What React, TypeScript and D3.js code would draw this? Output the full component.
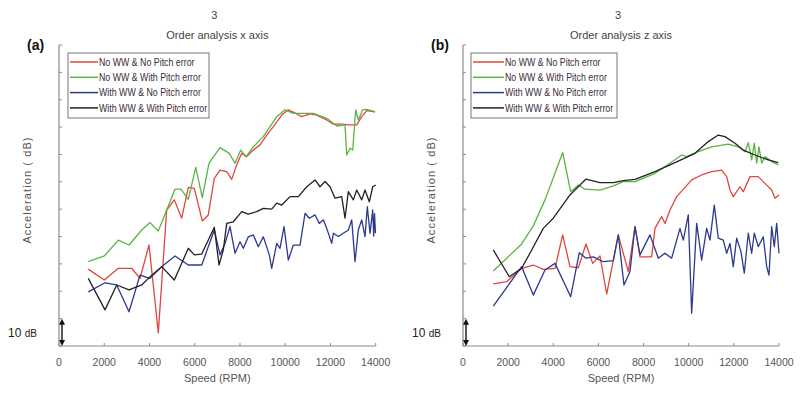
import * as d3 from 'd3';

// [rpm, dB] samples
const aRedNoWwNoPitch: [number, number][] = [
  [1295, 28.1], [2003, 24.1], [2622, 28.4], [3214, 28.4], [3581, 24.7], [3979, 36.9], [4390, 4.9],
  [4761, 49.7], [5097, 53.4], [5424, 46.7], [5716, 58.0], [5981, 57.6], [6335, 45.7], [6600, 47.9],
  [6866, 61.3], [7118, 64.3], [7414, 63.7], [7635, 60.9], [7856, 66.2], [8077, 70.4], [8298, 69.2],
  [8590, 71.6], [8886, 73.5], [9182, 77.1], [9474, 80.2], [9846, 84.4], [10138, 86.3], [10509, 84.8],
  [10730, 83.8], [11097, 84.8], [11393, 84.4], [11835, 82.6], [12127, 81.1], [12569, 81.1],
  [12790, 80.8], [13161, 80.8], [13382, 83.8], [13603, 86.0], [13970, 85.6],
];
const aGreenNoWwPitch: [number, number][] = [
  [1295, 30.8], [2003, 32.9], [2622, 38.7], [3095, 36.9], [3656, 42.4], [4023, 45.1], [4390, 42.0],
  [4761, 49.7], [5128, 57.3], [5394, 57.3], [5716, 53.6], [6044, 65.3], [6335, 54.2], [6632, 66.8],
  [7118, 72.5], [7529, 70.4], [7781, 66.8], [8033, 71.6], [8267, 69.2], [8590, 72.8], [9032, 76.5],
  [9328, 80.2], [9625, 83.8], [9991, 86.3], [10359, 85.0], [11243, 85.0], [11835, 83.2], [12277, 80.4],
  [12644, 80.8], [12719, 69.8], [12865, 72.3], [12984, 71.6], [13117, 86.3], [13232, 82.6],
  [13426, 86.3], [13603, 86.5], [13970, 85.6],
];
const aBlueWwNoPitch: [number, number][] = [
  [1295, 19.8], [2034, 23.1], [2551, 22.3], [3095, 12.5], [3581, 25.9], [4023, 24.7], [4540, 29.0],
  [5128, 32.9], [5716, 29.6], [6309, 29.6], [6866, 42.4], [7118, 33.3], [7339, 37.5], [7560, 43.6],
  [7781, 33.9], [8002, 38.1], [8148, 35.7], [8369, 39.9], [8590, 40.6], [8811, 36.3], [9032, 39.9],
  [9297, 33.3], [9403, 28.4], [9625, 37.5], [9770, 35.7], [9947, 43.6], [10138, 31.4], [10359, 36.9],
  [10655, 36.9], [10876, 48.5], [11066, 46.7], [11318, 47.9], [11508, 44.8], [11685, 46.1],
  [11835, 43.0], [12056, 37.5], [12127, 41.2], [12348, 40.0], [12569, 41.2], [12790, 42.4],
  [12940, 46.1], [13086, 30.8], [13232, 42.4], [13382, 46.1], [13528, 40.0], [13630, 50.9],
  [13749, 41.2], [13868, 49.7], [13912, 40.2], [13948, 48.4], [13990, 41.2],
];
const aBlackWwPitch: [number, number][] = [
  [1295, 24.7], [2034, 13.2], [2551, 22.3], [3095, 20.5], [3656, 22.3], [4098, 25.9], [4540, 29.0],
  [5097, 24.1], [5716, 35.7], [5981, 33.3], [6309, 33.6], [6866, 43.4], [7074, 29.6], [7264, 35.1],
  [7414, 44.8], [7706, 45.4], [8077, 49.1], [8369, 48.2], [8740, 49.1], [9032, 50.3], [9403, 50.0],
  [9625, 52.2], [9846, 51.5], [10213, 54.6], [10580, 54.6], [10951, 58.2], [11318, 60.7],
  [11539, 58.2], [11760, 60.1], [11981, 58.2], [12202, 54.0], [12498, 54.6], [12644, 46.7],
  [12790, 56.4], [13011, 53.4], [13161, 57.0], [13382, 53.4], [13528, 57.0], [13718, 52.7],
  [13868, 58.2], [14000, 58.8],
];

const bRedNoWwNoPitch: [number, number][] = [
  [1342, 22.7], [1936, 23.5], [2600, 28.4], [3114, 29.6], [3557, 28.0], [4076, 28.4], [4417, 40.6],
  [4740, 29.0], [5108, 28.6], [5449, 37.3], [5746, 30.2], [6069, 32.9], [6366, 19.0], [6880, 40.6],
  [7323, 27.2], [7620, 43.6], [7841, 32.6], [8359, 32.6], [8506, 43.0], [8802, 47.3], [8949, 44.8],
  [9170, 49.7], [9467, 54.6], [10131, 60.7], [10574, 62.5], [11018, 63.7], [11460, 64.3],
  [11682, 61.9], [11828, 57.0], [11974, 54.6], [12271, 58.2], [12417, 56.4], [12714, 61.9],
  [13082, 61.9], [13454, 58.8], [13675, 57.0], [13822, 54.0], [13999, 55.2],
];
const bGreenNoWwPitch: [number, number][] = [
  [1342, 27.4], [1936, 32.1], [2600, 37.3], [3114, 43.9], [3633, 53.4], [4076, 63.1], [4417, 70.7],
  [4771, 56.4], [5108, 58.8], [5405, 57.3], [6069, 57.0], [6658, 58.5], [7101, 60.1], [7620, 60.1],
  [8506, 63.1], [9170, 66.8], [9688, 69.8], [9910, 69.2], [10424, 71.0], [11018, 72.8], [11753, 73.8],
  [12196, 72.8], [12493, 71.0], [12639, 74.3], [12789, 68.0], [12905, 74.1], [13011, 66.8],
  [13113, 72.8], [13233, 66.8], [13379, 69.2], [13675, 67.4], [13968, 66.2],
];
const bBlueWwNoPitch: [number, number][] = [
  [1342, 14.6], [2600, 29.0], [3114, 18.6], [3633, 27.8], [4076, 30.2], [4771, 18.0], [5152, 34.1],
  [5449, 32.1], [5772, 32.6], [6215, 30.8], [6658, 31.2], [6880, 40.6], [7132, 22.3], [7398, 27.2],
  [7620, 43.6], [7841, 33.3], [8284, 40.6], [8652, 32.1], [8949, 33.9], [9245, 32.1], [9613, 43.0],
  [9759, 38.7], [9981, 47.9], [10131, 12.0], [10353, 44.8], [10574, 31.4], [10796, 43.0],
  [10942, 38.7], [11133, 51.5], [11310, 39.4], [11531, 38.7], [11682, 33.9], [11828, 37.5],
  [11974, 29.0], [12125, 39.4], [12315, 34.5], [12462, 26.6], [12639, 41.2], [12789, 33.9],
  [12905, 41.2], [13082, 36.3], [13303, 39.9], [13454, 29.0], [13556, 25.9], [13675, 43.6],
  [13791, 36.3], [13897, 44.8], [13999, 33.9],
];
const bBlackWwPitch: [number, number][] = [
  [1342, 35.1], [2051, 25.3], [2600, 28.4], [3043, 35.1], [3557, 43.0], [4000, 46.7], [4740, 55.2],
  [5449, 61.0], [6069, 59.7], [6658, 59.7], [7101, 60.4], [7620, 60.9], [8506, 63.7], [9392, 67.0],
  [10278, 70.4], [10867, 74.7], [11310, 77.1], [11607, 76.5], [12050, 74.1], [12417, 71.6],
  [12936, 69.8], [13525, 68.0], [13968, 67.0],
];

const legendLabels = [
  'No WW & No Pitch error',
  'No WW & With Pitch error',
  'With WW & No Pitch error',
  'With WW & With Pitch error',
];
const seriesColors = ['#e0463f', '#5cb247', '#2b3990', '#222222'];
const xTicks = [0, 2000, 4000, 6000, 8000, 10000, 12000, 14000];
const yTicks = d3.range(0, 111, 10);

const FONT = '"Liberation Sans", Arial, sans-serif';
const AXIS = '#8a8a8a';

type PanelProps = {
  left: number;
  right: number;
  letter: string;
  title: string;
  series: [number, number][][];
  legendX: number;
  legendW: number;
  lineLen: number;
  labelX: number;
};

function Panel({ left, right, letter, title, series, legendX, legendW, lineLen, labelX }: PanelProps) {
  const top = 45, bottom = 346;
  const x = d3.scaleLinear().domain([0, 14000]).range([left, right]);
  const y = d3.scaleLinear().domain([0, 110]).range([bottom, top]);
  const line = d3.line<[number, number]>().x((d) => x(d[0])).y((d) => y(d[1]));
  const cx = (left + right) / 2;

  return (
    <g fontFamily={FONT}>
      <text x={cx - 3} y={19} fontSize={11} textAnchor="middle" fill="#444">3</text>
      <text x={cx} y={39} fontSize={11} textAnchor="middle" fill="#444">{title}</text>
      <text x={left - 32} y={50} fontSize={14} fontWeight="bold" fill="#111">{letter}</text>

      {/* axes */}
      <line x1={left} x2={left} y1={top} y2={bottom} stroke={AXIS} strokeWidth={1.2} />
      <line x1={left} x2={right} y1={bottom} y2={bottom} stroke={AXIS} strokeWidth={1.2} />
      {yTicks.map((t) => (
        <line key={t} x1={left} x2={left + 3} y1={y(t)} y2={y(t)} stroke={AXIS} />
      ))}
      {xTicks.map((t) => (
        <g key={t}>
          <line x1={x(t)} x2={x(t)} y1={bottom} y2={bottom - 3} stroke={AXIS} />
          <text x={x(t)} y={366} fontSize={10.5} textAnchor="middle" fill="#555">{t}</text>
        </g>
      ))}
      <text x={cx} y={382} fontSize={11} textAnchor="middle" fill="#555">Speed (RPM)</text>
      <text
        transform={`translate(${labelX},190) rotate(-90)`}
        fontSize={11}
        textAnchor="middle"
        fill="#555"
        letterSpacing={1.1}
      >
        Acceleration ( dB)
      </text>

      {/* 10 dB scale marker */}
      <text x={left - 51} y={337} fontSize={12} fill="#222">
        10 <tspan fontSize={10}>dB</tspan>
      </text>
      <line x1={left + 3} x2={left + 3} y1={y(10) + 4} y2={bottom - 4} stroke="#111" strokeWidth={1.4} />
      <path d={`M${left},${y(10) + 6} L${left + 3},${y(10)} L${left + 6},${y(10) + 6} Z`} fill="#111" />
      <path d={`M${left},${bottom - 6} L${left + 3},${bottom} L${left + 6},${bottom - 6} Z`} fill="#111" />

      {series.map((s, i) => (
        <path key={i} d={line(s) ?? ''} fill="none" stroke={seriesColors[i]} strokeWidth={1.3} strokeLinejoin="round" />
      ))}

      {/* legend (text is narrow in the original, so squeeze it horizontally) */}
      <rect x={legendX} y={53} width={legendW} height={65} fill="#fff" stroke="#777" strokeWidth={1} />
      {legendLabels.map((lab, i) => {
        const ly = 62 + i * 15.3;
        return (
          <g key={lab}>
            <line x1={legendX + 2} x2={legendX + 2 + lineLen} y1={ly} y2={ly} stroke={seriesColors[i]} strokeWidth={1.5} />
            <text
              transform={`translate(${legendX + 3 + lineLen},${ly + 3.8}) scale(0.84,1)`}
              fontSize={10.5}
              fill="#3a2a3a"
            >
              {lab}
            </text>
          </g>
        );
      })}
    </g>
  );
}

export default function App() {
  return (
    <svg
      width={800}
      height={393}
      style={{ position: 'absolute', left: 0, top: 0, background: '#fff' }}
    >
      <Panel
        left={59}
        right={375.7}
        letter="(a)"
        title="Order analysis x axis"
        series={[aRedNoWwNoPitch, aGreenNoWwPitch, aBlueWwNoPitch, aBlackWwPitch]}
        legendX={68}
        legendW={141}
        lineLen={28}
        labelX={31}
      />
      <Panel
        left={463}
        right={779}
        letter="(b)"
        title="Order analysis z axis"
        series={[bRedNoWwNoPitch, bGreenNoWwPitch, bBlueWwNoPitch, bBlackWwPitch]}
        legendX={471}
        legendW={146}
        lineLen={31}
        labelX={435}
      />
    </svg>
  );
}
